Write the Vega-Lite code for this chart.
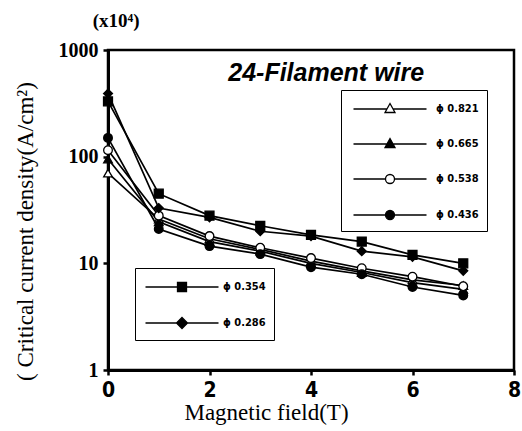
{
  "$schema": "https://vega.github.io/schema/vega-lite/v6.json",
  "width": 406,
  "height": 320,
  "autosize": {"type": "none"},
  "padding": {"left": 108, "top": 50, "right": 8, "bottom": 61},
  "background": "white",
  "config": {
    "view": {"stroke": "black", "strokeWidth": 2.5},
    "axis": {"grid": false, "domainColor": "black", "domainWidth": 3, "tickColor": "black", "tickWidth": 2.5, "tickSize": 5, "labelColor": "black", "titleColor": "black"}
  },
  "datasets": {
    "jc": [
      {"series": "0.821", "B": 0, "Jc": 70}, {"series": "0.821", "B": 1, "Jc": 26}, {"series": "0.821", "B": 2, "Jc": 17}, {"series": "0.821", "B": 3, "Jc": 13.5}, {"series": "0.821", "B": 4, "Jc": 10.5}, {"series": "0.821", "B": 5, "Jc": 8.5}, {"series": "0.821", "B": 6, "Jc": 7}, {"series": "0.821", "B": 7, "Jc": 6.2},
      {"series": "0.665", "B": 0, "Jc": 95}, {"series": "0.665", "B": 1, "Jc": 24.5}, {"series": "0.665", "B": 2, "Jc": 16}, {"series": "0.665", "B": 3, "Jc": 13}, {"series": "0.665", "B": 4, "Jc": 10}, {"series": "0.665", "B": 5, "Jc": 8.2}, {"series": "0.665", "B": 6, "Jc": 6.6}, {"series": "0.665", "B": 7, "Jc": 5.7},
      {"series": "0.538", "B": 0, "Jc": 115}, {"series": "0.538", "B": 1, "Jc": 28}, {"series": "0.538", "B": 2, "Jc": 18}, {"series": "0.538", "B": 3, "Jc": 14}, {"series": "0.538", "B": 4, "Jc": 11.2}, {"series": "0.538", "B": 5, "Jc": 9}, {"series": "0.538", "B": 6, "Jc": 7.5}, {"series": "0.538", "B": 7, "Jc": 6.1},
      {"series": "0.436", "B": 0, "Jc": 150}, {"series": "0.436", "B": 1, "Jc": 21}, {"series": "0.436", "B": 2, "Jc": 14.5}, {"series": "0.436", "B": 3, "Jc": 12.2}, {"series": "0.436", "B": 4, "Jc": 9.2}, {"series": "0.436", "B": 5, "Jc": 7.9}, {"series": "0.436", "B": 6, "Jc": 6}, {"series": "0.436", "B": 7, "Jc": 5},
      {"series": "0.354", "B": 0, "Jc": 330}, {"series": "0.354", "B": 1, "Jc": 45}, {"series": "0.354", "B": 2, "Jc": 28}, {"series": "0.354", "B": 3, "Jc": 22.5}, {"series": "0.354", "B": 4, "Jc": 18.5}, {"series": "0.354", "B": 5, "Jc": 16}, {"series": "0.354", "B": 6, "Jc": 12}, {"series": "0.354", "B": 7, "Jc": 10},
      {"series": "0.286", "B": 0, "Jc": 390}, {"series": "0.286", "B": 1, "Jc": 33}, {"series": "0.286", "B": 2, "Jc": 27}, {"series": "0.286", "B": 3, "Jc": 20}, {"series": "0.286", "B": 4, "Jc": 18}, {"series": "0.286", "B": 5, "Jc": 13}, {"series": "0.286", "B": 6, "Jc": 11.5}, {"series": "0.286", "B": 7, "Jc": 8.5}
    ],
    "notes": [
      {"label": "24-Filament  wire"}
    ],
    "unit": [
      {"label": "(x10⁴)"}
    ]
  },
  "data": {"name": "jc"},
  "layer": [
    {
      "mark": {"type": "line", "color": "black", "strokeWidth": 1.7},
      "encoding": {
        "x": {"field": "B", "type": "quantitative", "scale": {"domain": [0, 8], "nice": false},
          "axis": {"values": [0, 2, 4, 6, 8], "title": "Magnetic  field(T)", "labelFont": "Liberation Sans Narrow, DejaVu Sans Condensed, Liberation Sans", "labelFontSize": 21, "labelFontWeight": "bold", "labelPadding": 4, "labelFlush": false,
            "titleFont": "Liberation Serif", "titleFontSize": 23, "titleFontWeight": "normal", "titleX": 158, "titleY": 49, "titleAlign": "center", "titleBaseline": "alphabetic", "titleAnchor": null}},
        "y": {"field": "Jc", "type": "quantitative", "scale": {"type": "log", "domain": [1, 1000], "nice": false},
          "axis": {"values": [1, 10, 100, 1000], "format": "d", "title": "(  Critical  current  density(A/cm²)", "labelFont": "Liberation Serif", "labelFontSize": 20, "labelFontWeight": "bold", "labelPadding": 5, "labelFlush": false,
            "titleFont": "Liberation Serif", "titleFontSize": 23, "titleFontWeight": "normal", "titleAngle": 270, "titleX": -76, "titleY": 181, "titleAlign": "center", "titleBaseline": "alphabetic", "titleAnchor": null}},
        "detail": {"field": "series", "type": "nominal"}
      }
    },
    {
      "transform": [{"filter": {"field": "series", "oneOf": ["0.821", "0.665", "0.538", "0.436"]}}],
      "mark": {"type": "point", "filled": true, "stroke": "black", "strokeWidth": 1.3, "size": 75, "opacity": 1},
      "encoding": {
        "x": {"field": "B", "type": "quantitative"},
        "y": {"field": "Jc", "type": "quantitative"},
        "shape": {"field": "series", "type": "nominal", "scale": {"domain": ["0.821", "0.665", "0.538", "0.436"], "range": ["triangle-up", "triangle-up", "circle", "circle"]}, "legend": null},
        "fill": {"field": "series", "type": "nominal", "scale": {"domain": ["0.821", "0.665", "0.538", "0.436"], "range": ["white", "black", "white", "black"]}, "legend": null}
      }
    },
    {
      "transform": [{"filter": {"field": "series", "oneOf": ["0.354", "0.286"]}}],
      "mark": {"type": "point", "filled": true, "stroke": "black", "strokeWidth": 1.3, "size": 80, "opacity": 1},
      "encoding": {
        "x": {"field": "B", "type": "quantitative"},
        "y": {"field": "Jc", "type": "quantitative"},
        "shape": {"field": "series", "type": "nominal", "scale": {"domain": ["0.354", "0.286"], "range": ["square", "diamond"]}, "legend": null},
        "fill": {"field": "series", "type": "nominal", "scale": {"domain": ["0.354", "0.286"], "range": ["black", "black"]}, "legend": null}
      }
    },
    {
      "transform": [{"filter": {"field": "series", "oneOf": ["0.821", "0.665", "0.538", "0.436"]}}],
      "mark": {"type": "point", "filled": true, "opacity": 0, "size": 400},
      "encoding": {
        "x": {"field": "B", "type": "quantitative"},
        "y": {"field": "Jc", "type": "quantitative"},
        "fill": {"field": "series", "type": "nominal", "scale": {"domain": ["0.821", "0.665", "0.538", "0.436"], "range": ["white", "black", "white", "black"]}},
        "stroke": {"field": "series", "type": "nominal", "scale": {"domain": ["0.821", "0.665", "0.538", "0.436"], "range": ["black", "black", "black", "black"]}},
        "shape": {"field": "series", "type": "nominal",
          "scale": {"domain": ["0.821", "0.665", "0.538", "0.436"],
            "range": [
              "M-3.65,0L-0.3,0M0.3,0L3.65,0M0,-0.55L0.5,0.35L-0.5,0.35Z",
              "M-3.65,0L3.65,0M0,-0.55L0.5,0.35L-0.5,0.35Z",
              "M-3.65,0L-0.45,0M0.45,0L3.65,0M0.45,0A0.45,0.45,0,1,1,-0.45,0A0.45,0.45,0,1,1,0.45,0Z",
              "M-3.65,0L3.65,0M0.45,0A0.45,0.45,0,1,1,-0.45,0A0.45,0.45,0,1,1,0.45,0Z"
            ]},
          "legend": {"orient": "none", "legendX": 233, "legendY": 40, "title": null, "symbolSize": 400, "symbolOffset": 30, "labelOffset": 35, "rowPadding": 17, "padding": 8,
            "strokeColor": "black", "symbolStrokeWidth": 1.3, "symbolOpacity": 1,
            "labelFont": "Liberation Sans Narrow, DejaVu Sans Condensed, Liberation Sans", "labelFontSize": 11, "labelFontWeight": "bold", "labelColor": "black",
            "labelExpr": "'ϕ ' + datum.label + '   '",
            "encode": {
              "legend": {"update": {"strokeWidth": {"value": 1.5}}}
            }}}
      }
    },
    {
      "transform": [{"filter": {"field": "series", "oneOf": ["0.354", "0.286"]}}],
      "mark": {"type": "point", "filled": true, "opacity": 0, "size": 400},
      "encoding": {
        "x": {"field": "B", "type": "quantitative"},
        "y": {"field": "Jc", "type": "quantitative"},
        "fill": {"field": "series", "type": "nominal", "scale": {"domain": ["0.354", "0.286"], "range": ["black", "black"]}},
        "stroke": {"field": "series", "type": "nominal", "scale": {"domain": ["0.354", "0.286"], "range": ["black", "black"]}},
        "shape": {"field": "series", "type": "nominal",
          "scale": {"domain": ["0.354", "0.286"],
            "range": [
              "M-3.65,0L3.65,0M-0.45,-0.45L0.45,-0.45L0.45,0.45L-0.45,0.45Z",
              "M-3.65,0L3.65,0M0,-0.55L0.55,0L0,0.55L-0.55,0Z"
            ]},
          "legend": {"orient": "none", "legendX": 27, "legendY": 218, "title": null, "symbolSize": 400, "symbolOffset": 28, "labelOffset": 30, "rowPadding": 17, "padding": 8,
            "strokeColor": "black", "symbolStrokeWidth": 1.3, "symbolOpacity": 1,
            "labelFont": "Liberation Sans Narrow, DejaVu Sans Condensed, Liberation Sans", "labelFontSize": 11, "labelFontWeight": "bold", "labelColor": "black",
            "labelExpr": "'ϕ ' + datum.label + '         '",
            "encode": {
              "legend": {"update": {"strokeWidth": {"value": 1.5}}}
            }}}
      }
    },
    {
      "data": {"name": "notes"},
      "mark": {"type": "text", "font": "Liberation Sans", "fontSize": 25, "fontWeight": "bold", "fontStyle": "italic", "color": "black", "align": "center", "baseline": "middle"},
      "encoding": {
        "x": {"datum": 4.3, "type": "quantitative"},
        "y": {"datum": 610, "type": "quantitative"},
        "text": {"field": "label", "type": "nominal"}
      }
    },
    {
      "data": {"name": "unit"},
      "mark": {"type": "text", "font": "Liberation Serif", "fontSize": 19, "fontWeight": "bold", "color": "black", "align": "center", "baseline": "middle", "clip": false},
      "encoding": {
        "x": {"datum": 0.16, "type": "quantitative"},
        "y": {"datum": 1870, "type": "quantitative"},
        "text": {"field": "label", "type": "nominal"}
      }
    }
  ],
  "resolve": {"scale": {"shape": "independent", "fill": "independent", "stroke": "independent"}}
}
